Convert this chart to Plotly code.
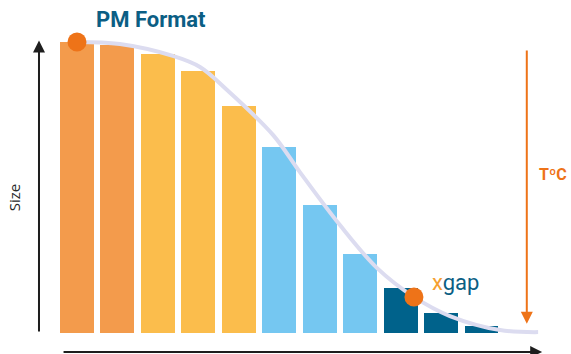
import plotly.graph_objects as go

# ---- data ----
fractions = list(range(11))                       # bar positions (size fractions)
sizes = [100, 99, 96, 90, 78, 64, 44, 27, 15.5, 7, 2.4]
bar_colors = ["#F39B4C", "#F39B4C",
              "#FBBD4C", "#FBBD4C", "#FBBD4C",
              "#75C7F1", "#75C7F1", "#75C7F1",
              "#00628B", "#00628B", "#00628B"]

curve_x = [0, 1.06, 2.37, 3.04, 3.71, 4.85, 5.51, 6.5, 7.42, 8.33, 9.22, 10.46, 11.4]
curve_y = [100, 99.3, 95.2, 91.4, 83.5, 68.0, 55.3, 37.1, 22.3, 12.4, 5.8, 1.0, 0.3]

marker_x = [0, 8.33]
marker_y = [100, 12.4]

title_text = "PM Format"
y_label = "Size"
temp_label = "TºC"

fig = go.Figure()

fig.add_trace(go.Bar(
    x=fractions, y=sizes, width=0.84,
    marker=dict(color=bar_colors, line=dict(width=0)),
    hoverinfo="skip",
))

fig.add_trace(go.Scatter(
    x=curve_x, y=curve_y, mode="lines",
    line=dict(color="#DCDCF0", width=4, shape="spline", smoothing=1.0),
    hoverinfo="skip",
))

fig.add_trace(go.Scatter(
    x=marker_x, y=marker_y, mode="markers",
    marker=dict(color="#EE7318", size=19, line=dict(width=0)),
    hoverinfo="skip",
))

# axes arrows
fig.add_annotation(x=-0.94, y=100.5, ax=-0.94, ay=0, xref="x", yref="y",
                   axref="x", ayref="y", showarrow=True, arrowhead=2,
                   arrowsize=1.2, arrowwidth=2, arrowcolor="#1E1E1E", text="")
fig.add_annotation(x=11.5, y=-6.5, ax=-0.37, ay=-6.5, xref="x", yref="y",
                   axref="x", ayref="y", showarrow=True, arrowhead=2,
                   arrowsize=1.2, arrowwidth=2, arrowcolor="#1E1E1E", text="")
# temperature arrow
fig.add_annotation(x=11.12, y=3.2, ax=11.12, ay=97.6, xref="x", yref="y",
                   axref="x", ayref="y", showarrow=True, arrowhead=2,
                   arrowsize=1.2, arrowwidth=2, arrowcolor="#EE7318", text="")

# texts
fig.add_annotation(x=1.83, y=107.6, xref="x", yref="y", text="<b>" + title_text + "</b>",
                   showarrow=False, font=dict(family="Roboto", size=22, color="#0B5E84"))
fig.add_annotation(x=-1.55, y=46.4, xref="x", yref="y", text=y_label, textangle=-90,
                   showarrow=False, font=dict(family="Open Sans", size=15, color="#2A2A2A"))
fig.add_annotation(x=11.78, y=54.5, xref="x", yref="y", text="<b>" + temp_label + "</b>",
                   showarrow=False, font=dict(family="Roboto", size=16, color="#EE7318"))
fig.add_annotation(x=9.35, y=17.4, xref="x", yref="y",
                   text="<span style='color:#F5A030'>x</span>gap",
                   showarrow=False, font=dict(family="Roboto", size=22, color="#0B5E84"))

fig.update_layout(
    width=571, height=354,
    margin=dict(l=0, r=0, t=0, b=0),
    paper_bgcolor="white", plot_bgcolor="white",
    showlegend=False, bargap=0,
    xaxis=dict(range=[-1.904, 12.213], visible=False, fixedrange=True),
    yaxis=dict(range=[-7.22, 114.43], visible=False, fixedrange=True),
)

fig.write_html("out.html")
